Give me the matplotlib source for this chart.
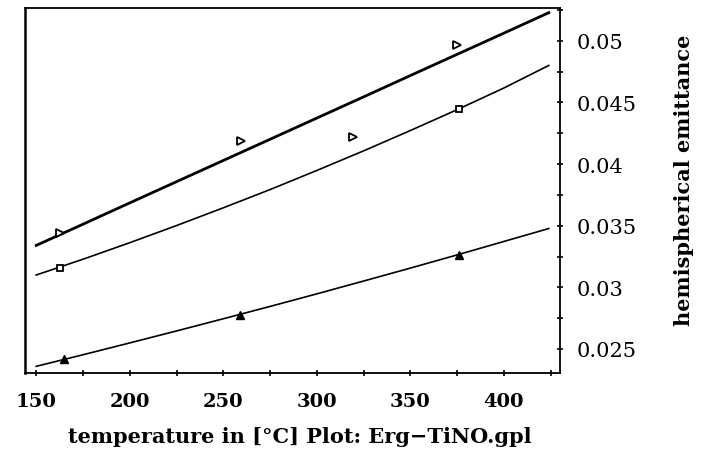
import numpy as np
import matplotlib as mpl
mpl.use("agg")
import matplotlib.pyplot as plt
from matplotlib.ticker import MultipleLocator

# fitted curves, values every 25 degrees
curve_x = [150, 175, 200, 225, 250, 275, 300, 325, 350, 375, 400, 424]
curve_y1 = [0.03340, 0.03512, 0.03685, 0.03857, 0.04029, 0.04201,
            0.04373, 0.04545, 0.04718, 0.04890, 0.05062, 0.05228]
curve_y2 = [0.03100, 0.03228, 0.03362, 0.03501, 0.03645, 0.03793,
            0.03948, 0.04107, 0.04272, 0.04441, 0.04617, 0.04800]
curve_y3 = [0.02359, 0.02453, 0.02549, 0.02646, 0.02745, 0.02845,
            0.02947, 0.03051, 0.03156, 0.03263, 0.03372, 0.03477]

# measured points
pts_x1 = [162.5, 259.3, 319.2, 375.0]
pts_y1 = [0.03442, 0.04187, 0.04223, 0.04967]
pts_x2 = [162.8, 376.1]
pts_y2 = [0.03160, 0.04445]
pts_x3 = [164.6, 259.0, 376.0]
pts_y3 = [0.02421, 0.02778, 0.03260]

xticks = [150, 200, 250, 300, 350, 400]
yticks = [0.025, 0.03, 0.035, 0.04, 0.045, 0.05]
ytick_labels = ["0.025", "0.03", "0.035", "0.04", "0.045", "0.05"]

plt.rcParams['font.family'] = 'DejaVu Serif'

fig = plt.figure(figsize=(7.01, 4.52), dpi=100)
ax = fig.add_axes([25/701, 1-374/452, 535/701, 365/452])

ax.plot(curve_x, curve_y1, color='black', lw=2.0)
ax.plot(curve_x, curve_y2, color='black', lw=1.2)
ax.plot(curve_x, curve_y3, color='black', lw=1.2)

ax.plot(pts_x1, pts_y1, ls='none', marker='>', ms=6, mfc='white', mec='black', mew=1.3)
ax.plot(pts_x2, pts_y2, ls='none', marker='s', ms=5, mfc='white', mec='black', mew=1.3)
ax.plot(pts_x3, pts_y3, ls='none', marker='^', ms=6, mfc='black', mec='black')

ax.set_xlim(144, 430)
ax.set_ylim(0.02305, 0.05266)

ax.yaxis.tick_right()
ax.set_xticks(xticks)
ax.set_xticklabels([str(v) for v in xticks], fontsize=14, fontweight='bold')
ax.set_yticks(yticks)
ax.set_yticklabels(ytick_labels, fontsize=15)
ax.xaxis.set_minor_locator(MultipleLocator(25))
ax.yaxis.set_minor_locator(MultipleLocator(0.0025))
ax.tick_params(axis='x', which='both', direction='inout', length=4, width=1.2, pad=12)
ax.tick_params(axis='y', which='both', direction='inout', length=4, width=1.2, pad=10)
for s in ax.spines.values():
    s.set_linewidth(1.3)
ax.spines['left'].set_linewidth(1.8)

fig.text(300/701, 1-437/452, "temperature in [°C] Plot: Erg\u2212TiNO.gpl",
         ha='center', va='center', fontsize=15, fontweight='bold')
fig.text(684/701, 1-180/452, "hemispherical emittance", rotation=90,
         ha='center', va='center', fontsize=15, fontweight='bold')

fig.savefig("out.png", dpi=100)
